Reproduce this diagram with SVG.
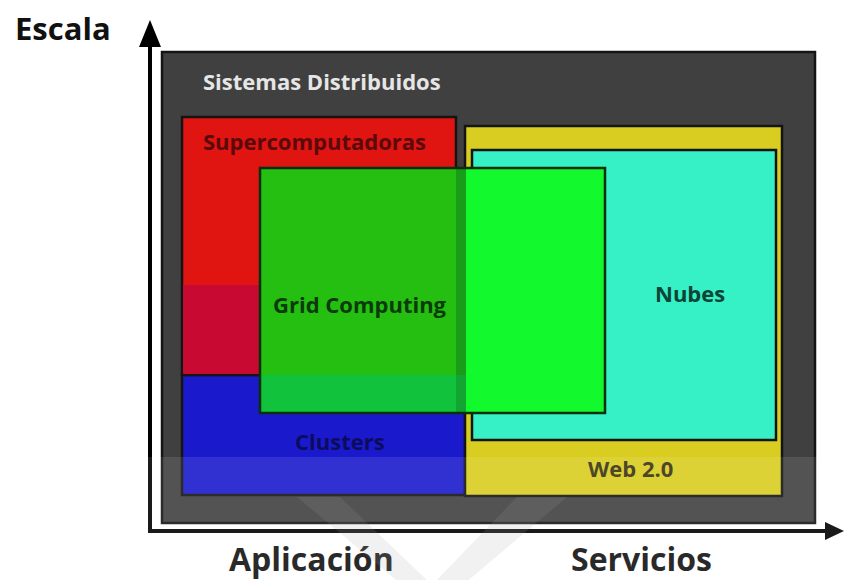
<svg xmlns="http://www.w3.org/2000/svg" width="844" height="580" viewBox="0 0 844 580">
<defs>
<style>
.lbl{font-family:"Open Sans","Liberation Sans",sans-serif;font-weight:bold;font-size:22px}
.axis{font-family:"Open Sans","Liberation Sans",sans-serif;font-weight:bold;font-size:32px;fill:#111}
.box{stroke:#141414;stroke-width:2.5}
.ax{stroke:#000;stroke-width:4;fill:none}
</style>
</defs>
<rect width="844" height="580" fill="#ffffff"/>
<g id="sistemas-distribuidos">
<rect class="box" x="162" y="52" width="653" height="471" fill="#404040"/>
<text class="lbl" x="203" y="90" fill="#e6e6e6">Sistemas Distribuidos</text>
</g>
<g id="clusters">
<rect class="box" x="182" y="375" width="283" height="120" fill="#1a1acc"/>
<text class="lbl" x="295" y="450" fill="#0c0c5e">Clusters</text>
</g>
<g id="supercomputadoras">
<rect class="box" x="182" y="117" width="274" height="258" fill="#e01410"/>
<rect x="183.3" y="285" width="271.5" height="88.7" fill="#c80a32"/>
<text class="lbl" x="203" y="150" fill="#5a0a0a">Supercomputadoras</text>
</g>
<g id="web20">
<rect class="box" x="465" y="126" width="317" height="370" fill="#d8cd20"/>
<text class="lbl" x="588" y="477" fill="#3a3210">Web 2.0</text>
</g>
<g id="nubes">
<rect class="box" x="472" y="150" width="304" height="290" fill="#36f0c6"/>
<text class="lbl" x="655" y="302" fill="#0c4436">Nubes</text>
</g>
<g id="grid-computing">
<rect x="260" y="168" width="345" height="245" fill="#12f92e"/>
<rect x="260" y="168" width="196" height="207" fill="#25bf12"/>
<rect x="260" y="375" width="205" height="38" fill="#10c23c"/>
<rect x="456" y="168" width="10" height="207" fill="#179d17"/>
<rect x="456" y="375" width="10" height="38" fill="#12a532"/>
<rect x="260" y="168" width="345" height="245" fill="none" stroke="#0b2e0b" stroke-width="2.5"/>
<text class="lbl" x="273" y="313" fill="#0b3a0b">Grid Computing</text>
</g>
<g id="connectors">
<line class="ax" x1="150" y1="533" x2="150" y2="44"/>
<polygon points="150,20 139,47 161,47" fill="#000"/>
<line class="ax" x1="148" y1="531" x2="828" y2="531"/>
<polygon points="844,531 825,522 825,540" fill="#000"/>
</g>
<g id="labels">
<text class="axis" x="15" y="40" style="font-size:31px">Escala</text>
<text class="axis" x="229" y="571">Aplicación</text>
<text class="axis" x="571" y="571">Servicios</text>
</g>
<g id="watermark">
<rect x="0" y="457" width="844" height="123" fill="#ffffff" opacity="0.1"/>
<path d="M297,497 L567,497 L445,600 L420,600 Z M340,497 L432,585 L517,497 Z" fill="#a0a0a0" opacity="0.15" fill-rule="evenodd"/>
</g>
</svg>
